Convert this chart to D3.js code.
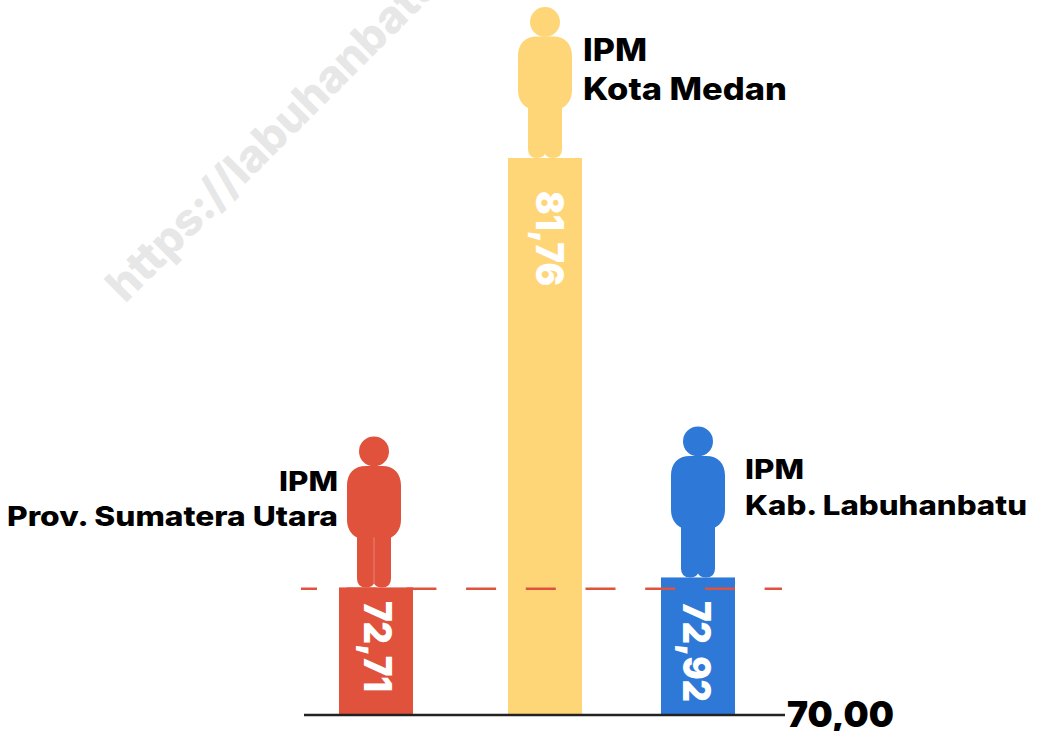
<!DOCTYPE html>
<html>
<head>
<meta charset="utf-8">
<script src="https://cdn.jsdelivr.net/npm/d3@7"></script>
<style>
  html, body { margin: 0; padding: 0; background: #fff; overflow: hidden; }
  text { font-family: Inter, "Open Sans", sans-serif; }
</style>
</head>
<body>
<div id="chart"></div>
<script>
// data
const regions = ["Prov. Sumatera Utara", "Kota Medan", "Kab. Labuhanbatu"];
const ipmValues = [72.71, 81.76, 72.92];
const ipmLabels = ["72,71", "81,76", "72,92"];
const barColors = ["#e1523d", "#ffd677", "#2e79d8"];
const baseValue = 70;
const baseLabel = "70,00";
const refValue = 72.68;
const watermark = "https://labuhanbatu";

const width = 1039, height = 731;

const svg = d3.select("#chart").append("svg")
    .attr("width", width)
    .attr("height", height);

// =========================
// SCALES
// =========================
const y = d3.scaleLinear().domain([baseValue, 81.76]).range([716, 158]);
const barCenter = d3.scaleOrdinal().domain(regions).range([376, 545, 698]);
const personCenter = d3.scaleOrdinal().domain(regions).range([374, 545, 698]);
const color = d3.scaleOrdinal().domain(regions).range(barColors);
const barWidth = 74;

const rows = regions.map((r, i) => ({ region: r, value: ipmValues[i], label: ipmLabels[i] }));

// watermark
svg.append("text")
    .attr("transform", "translate(125,304) rotate(-45)")
    .attr("font-size", 45)
    .attr("font-weight", 800)
    .attr("fill", "#e7e7e7")
    .text(watermark);

// bars
svg.selectAll("rect.bar")
    .data(rows)
    .enter()
    .append("rect")
    .attr("class", "bar")
    .attr("x", d => barCenter(d.region) - barWidth / 2)
    .attr("y", d => y(d.value))
    .attr("width", barWidth)
    .attr("height", d => y(baseValue) - y(d.value))
    .attr("fill", d => color(d.region));

// dashed reference line
svg.append("line")
    .attr("x1", 301)
    .attr("x2", 782)
    .attr("y1", y(refValue))
    .attr("y2", y(refValue))
    .attr("stroke", "#e1523d")
    .attr("stroke-width", 2.5)
    .attr("stroke-dasharray", "30 29.7")
    .attr("stroke-dashoffset", 14);

// baseline + 70,00 through an axis
const axis = d3.axisRight(y)
    .tickValues([baseValue])
    .tickSize(481)
    .tickPadding(2)
    .tickFormat(() => baseLabel);

const axisG = svg.append("g")
    .attr("transform", "translate(304,-1.5)")
    .call(axis);
axisG.select(".domain").remove();
axisG.selectAll(".tick line").attr("stroke", "#222").attr("stroke-width", 2.5);
axisG.selectAll(".tick text")
    .attr("fill", "#000")
    .attr("font-size", 36)
    .attr("font-weight", 900)
    .attr("font-family", "Inter")
    .attr("textLength", 107)
    .attr("lengthAdjust", "spacingAndGlyphs")
    .attr("dy", 11.5);

// person figures, standing on top of each bar
const personPath = [
    "M-27,-102 C-27,-114 -20,-121.5 -8,-121.5 L8,-121.5 C20,-121.5 27,-114 27,-102",
    "L27,-68 C27,-59 23,-53 17,-50 L17,-9 Q17,0 8,0 Q2,0 0,-4 Q-2,0 -8,0 Q-17,0 -17,-9",
    "L-17,-50 C-23,-53 -27,-59 -27,-68 Z"
].join(" ");

const people = svg.selectAll("g.person")
    .data(rows)
    .enter()
    .append("g")
    .attr("class", "person")
    .attr("transform", d => `translate(${personCenter(d.region)},${y(d.value)})`)
    .attr("fill", d => color(d.region));

people.append("circle").attr("cy", -136).attr("r", 15);
people.append("path").attr("d", personPath);

// only the red figure shows the seam between its legs
people.filter((d, i) => i === 0).append("line")
    .attr("y1", -50)
    .attr("y2", -4)
    .attr("stroke", "#fff")
    .attr("stroke-opacity", 0.3)
    .attr("stroke-width", 1);

// value labels, rotated inside the bars
const valueLayout = [
    { x: 363.5, y: 601, len: 91 },
    { x: 536, y: 191, len: 95 },
    { x: 683, y: 601, len: 101 }
];
svg.selectAll("text.value")
    .data(rows)
    .enter()
    .append("text")
    .attr("class", "value")
    .attr("transform", (d, i) => `translate(${valueLayout[i].x},${valueLayout[i].y}) rotate(90)`)
    .attr("font-size", 38)
    .attr("font-weight", 900)
    .attr("fill", "#fff")
    .attr("textLength", (d, i) => valueLayout[i].len)
    .attr("lengthAdjust", "spacingAndGlyphs")
    .text(d => d.label);

// name labels
const nameLayout = [
    { x: 338, y1: 491, y2: 526, anchor: "end", size: 27, l1: 59, l2: 331 },
    { x: 583, y1: 61, y2: 100, anchor: "start", size: 31, l1: 64, l2: 204 },
    { x: 745, y1: 479, y2: 515, anchor: "start", size: 27, l1: 59, l2: 282 }
];
rows.forEach((d, i) => {
    const n = nameLayout[i];
    [["IPM", n.y1, n.l1], [d.region, n.y2, n.l2]].forEach(([txt, yy, len]) => {
        svg.append("text")
            .attr("x", n.x)
            .attr("y", yy)
            .attr("text-anchor", n.anchor)
            .attr("font-size", n.size)
            .attr("font-weight", 800)
            .attr("fill", "#000")
            .attr("textLength", len)
            .attr("lengthAdjust", "spacingAndGlyphs")
            .text(txt);
    });
});
</script>
</body>
</html>
